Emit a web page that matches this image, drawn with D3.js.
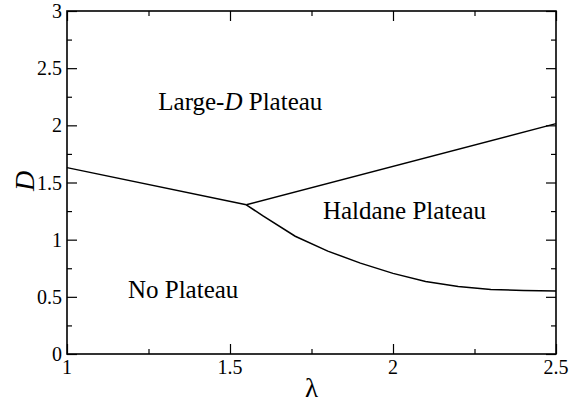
<!DOCTYPE html>
<html>
<head>
<meta charset="utf-8">
<script src="https://cdn.jsdelivr.net/npm/d3@7"></script>
</head>
<body style="margin:0">
<script>
const WIDTH = 578;
const HEIGHT = 402;
const MARGIN = { top: 11, left: 67, right: 22, bottom: 48 };

// phase boundaries (lambda, D)
const lowerLeftLambda = [1.0, 1.55];
const lowerLeftD = [1.63, 1.305];

const upperLambda = [1.55, 2.5];
const upperD = [1.305, 2.015];

const haldaneLambda = [1.55, 1.6, 1.7, 1.8, 1.9, 2.0, 2.1, 2.2, 2.3, 2.4, 2.5];
const haldaneD = [1.305, 1.21, 1.03, 0.9, 0.795, 0.705, 0.635, 0.59, 0.565, 0.555, 0.55];

const xTicks = [1, 1.5, 2, 2.5];
const xMinor = [1.25, 1.75, 2.25];
const yTicks = [0, 0.5, 1, 1.5, 2, 2.5, 3];
const yMinor = [0.25, 0.75, 1.25, 1.75, 2.25, 2.75];

const regionNames = ["Large-D Plateau", "Haldane Plateau", "No Plateau"];
const regionLambda = [1.28, 1.785, 1.187];
const regionD = [2.13, 1.18, 0.49];

const innerW = WIDTH - MARGIN.left - MARGIN.right;
const innerH = HEIGHT - MARGIN.top - MARGIN.bottom;

const x = d3.scaleLinear().domain([1, 2.5]).range([0, innerW]);
const y = d3.scaleLinear().domain([0, 3]).range([innerH, 0]);

const svg = d3.select("body").append("svg")
  .attr("width", WIDTH)
  .attr("height", HEIGHT)
  .attr("font-family", "Times New Roman");

const g = svg.append("g")
  .attr("transform", `translate(${MARGIN.left},${MARGIN.top})`);

// ticks: lines only, drawn through the axis generators
function tickAxis(axis, tx, size) {
  const a = g.append("g").attr("transform", tx)
    .call(axis.tickSizeInner(size).tickSizeOuter(0).tickFormat(""));
  a.select(".domain").remove();
  a.selectAll("text").remove();
  a.selectAll(".tick line").attr("stroke", "#000").attr("stroke-width", 1.2);
}
tickAxis(d3.axisBottom(x).tickValues(xTicks), `translate(0,${innerH})`, -10);
tickAxis(d3.axisBottom(x).tickValues(xMinor), `translate(0,${innerH})`, -5);
tickAxis(d3.axisTop(x).tickValues(xTicks), "translate(0,0)", -10);
tickAxis(d3.axisTop(x).tickValues(xMinor), "translate(0,0)", -5);
tickAxis(d3.axisLeft(y).tickValues(yTicks), "translate(0,0)", -10);
tickAxis(d3.axisLeft(y).tickValues(yMinor), "translate(0,0)", -5);
tickAxis(d3.axisRight(y).tickValues(yTicks), `translate(${innerW},0)`, -10);
tickAxis(d3.axisRight(y).tickValues(yMinor), `translate(${innerW},0)`, -5);

// tick labels
g.selectAll(".xlab").data(xTicks).join("text")
  .attr("class", "xlab")
  .attr("x", d => x(d))
  .attr("y", innerH + 20)
  .attr("text-anchor", "middle")
  .attr("font-family", "Times New Roman")
  .attr("font-size", 20)
  .text(d => d);

g.selectAll(".ylab").data(yTicks).join("text")
  .attr("class", "ylab")
  .attr("x", -5)
  .attr("y", d => y(d) + 7)
  .attr("text-anchor", "end")
  .attr("font-family", "Times New Roman")
  .attr("font-size", 20)
  .text(d => d);

// frame
g.append("rect")
  .attr("x", 0).attr("y", 0)
  .attr("width", innerW).attr("height", innerH)
  .attr("fill", "none")
  .attr("stroke", "#000")
  .attr("stroke-width", 1.6);

const line = d3.line().x(d => x(d[0])).y(d => y(d[1]));

[[lowerLeftLambda, lowerLeftD], [upperLambda, upperD], [haldaneLambda, haldaneD]].forEach(([ls, ds]) => {
  g.append("path")
    .datum(ls.map((l, i) => [l, ds[i]]))
    .attr("d", line)
    .attr("fill", "none")
    .attr("stroke", "#000")
    .attr("stroke-width", 1.5);
});

// region labels (the D in "Large-D" is italic)
g.selectAll(".region").data(regionNames).join("text")
  .attr("class", "region")
  .attr("x", (d, i) => x(regionLambda[i]))
  .attr("y", (d, i) => y(regionD[i]))
  .attr("font-family", "Times New Roman")
  .attr("font-size", 25)
  .each(function (d) {
    const t = d3.select(this);
    const m = d.split("-D");
    if (m.length === 2) {
      t.append("tspan").text(m[0] + "-");
      t.append("tspan").attr("font-style", "italic").text("D");
      t.append("tspan").text(m[1]);
    } else {
      t.text(d);
    }
  });

// axis titles
svg.append("text")
  .attr("x", MARGIN.left + innerW / 2)
  .attr("y", 397)
  .attr("text-anchor", "middle")
  .attr("font-family", "Times New Roman")
  .attr("font-size", 27)
  .text("λ");

svg.append("text")
  .attr("transform", "translate(34,181) rotate(-90)")
  .attr("text-anchor", "middle")
  .attr("font-family", "Times New Roman")
  .attr("font-size", 28)
  .attr("font-style", "italic")
  .text("D");
</script>
</body>
</html>
